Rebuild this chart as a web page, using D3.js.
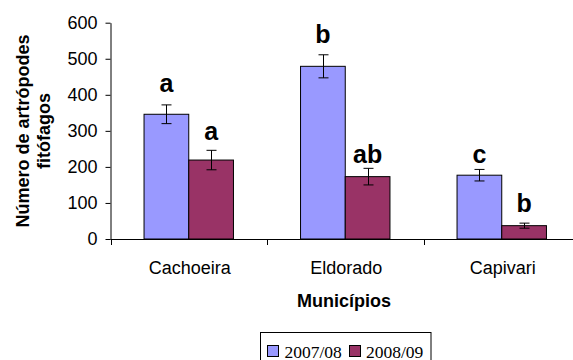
<!DOCTYPE html>
<html>
<head>
<meta charset="utf-8">
<script src="https://cdn.jsdelivr.net/npm/d3@7"></script>
<style>
  html, body { margin: 0; padding: 0; background: #fff; }
  svg { display: block; }
  text { font-family: "Liberation Sans", Arial, sans-serif; }
</style>
</head>
<body>
<svg id="chart" width="573" height="360"></svg>
<script>
const categories = ["Cachoeira", "Eldorado", "Capivari"];
const seriesNames = ["2007/08", "2008/09"];
const values2007 = [346, 479, 177];
const values2008 = [219, 173, 37];
const errors2007 = [26, 32, 16];
const errors2008 = [27, 23, 7];
const letters2007 = ["a", "b", "c"];
const letters2008 = ["a", "ab", "b"];
const letterAt2007 = [408, 543, 210];
const letterAt2008 = [275, 211, 76];
const yTicks = [0, 100, 200, 300, 400, 500, 600];
const colors = ["#9999FF", "#993366"];

const svg = d3.select("#chart");

const x = d3.scaleBand().domain(categories).range([110.5, 580]).paddingInner(0).paddingOuter(0);
const inner = d3.scaleBand().domain(seriesNames).range([0, x.bandwidth()]).paddingInner(0).paddingOuter(0.75);
const y = d3.scaleLinear().domain([0, 600]).range([239, 22.7]);

const rows = [];
categories.forEach((c, i) => {
  rows.push({cat: c, s: seriesNames[0], v: values2007[i], e: errors2007[i], l: letters2007[i], la: letterAt2007[i], col: colors[0]});
  rows.push({cat: c, s: seriesNames[1], v: values2008[i], e: errors2008[i], l: letters2008[i], la: letterAt2008[i], col: colors[1]});
});

// Y axis
const yAxis = d3.axisLeft(y).tickValues(yTicks).tickSize(5).tickPadding(8).tickSizeOuter(0);
const gy = svg.append("g").attr("transform", "translate(110.5,0)").call(yAxis);
gy.selectAll("path, line").attr("stroke", "#000");
gy.selectAll("text").attr("font-size", 18).attr("fill", "#000")
  .style("font-family", '"Liberation Sans", Arial, sans-serif');

// Bars
const bx = d => x(d.cat) + inner(d.s);
svg.append("g").selectAll("rect").data(rows).join("rect")
  .attr("x", d => bx(d))
  .attr("y", d => y(d.v))
  .attr("width", inner.bandwidth())
  .attr("height", d => y(0) - y(d.v))
  .attr("fill", d => d.col)
  .attr("stroke", "#000")
  .attr("stroke-width", 1);

// X axis (band boundaries ticks)
svg.append("line").attr("x1", 110.5).attr("x2", 580).attr("y1", y(0) + 0.5).attr("y2", y(0) + 0.5).attr("stroke", "#000");
const bounds = categories.map(c => x(c)).concat([x(categories[2]) + x.bandwidth()]);
svg.append("g").selectAll("line").data(bounds).join("line")
  .attr("x1", d => Math.round(d) + 0.5).attr("x2", d => Math.round(d) + 0.5)
  .attr("y1", y(0)).attr("y2", y(0) + 6).attr("stroke", "#000");
svg.append("g").selectAll("text").data(categories).join("text")
  .attr("x", d => x(d) + x.bandwidth() / 2 + 1)
  .attr("y", 274)
  .attr("text-anchor", "middle")
  .attr("font-size", 18)
  .text(d => d);

// Error bars
const eg = svg.append("g").attr("stroke", "#000").attr("stroke-width", 1);
rows.forEach(d => {
  const cx = Math.round(bx(d) + inner.bandwidth() / 2) + 0.5;
  eg.append("line").attr("x1", cx).attr("x2", cx).attr("y1", y(d.v + d.e)).attr("y2", y(d.v - d.e));
  eg.append("line").attr("x1", cx - 5).attr("x2", cx + 5).attr("y1", y(d.v + d.e)).attr("y2", y(d.v + d.e));
  eg.append("line").attr("x1", cx - 5).attr("x2", cx + 5).attr("y1", y(d.v - d.e)).attr("y2", y(d.v - d.e));
});

// Letters
svg.append("g").selectAll("text").data(rows).join("text")
  .attr("x", d => bx(d) + inner.bandwidth() / 2)
  .attr("y", d => y(d.la))
  .attr("text-anchor", "middle")
  .attr("font-size", 25)
  .attr("font-weight", "bold")
  .text(d => d.l);

// Axis titles
svg.append("text").attr("x", 344).attr("y", 306.5).attr("text-anchor", "middle")
  .attr("font-size", 18).attr("font-weight", "bold").text("Municípios");
svg.append("text").attr("transform", "translate(29,131) rotate(-90)").attr("text-anchor", "middle")
  .attr("font-size", 18).attr("font-weight", "bold").text("Número de artrópodes");
svg.append("text").attr("transform", "translate(49.5,131) rotate(-90)").attr("text-anchor", "middle")
  .attr("font-size", 18).attr("font-weight", "bold").text("fitófagos");

// Legend
const lg = svg.append("g");
lg.append("rect").attr("x", 260.5).attr("y", 332.5).attr("width", 170.5).attr("height", 40)
  .attr("fill", "#fff").attr("stroke", "#000");
const legX = [267.5, 349.5];
const legTX = [284.5, 366];
seriesNames.forEach((s, i) => {
  lg.append("rect").attr("x", legX[i]).attr("y", 345.5).attr("width", 11).attr("height", 11)
    .attr("fill", colors[i]).attr("stroke", "#000");
  lg.append("text").attr("x", legTX[i]).attr("y", 357.5).attr("font-size", 17.5)
    .style("font-family", '"Liberation Serif", "Times New Roman", serif').text(s);
});
</script>
</body>
</html>
